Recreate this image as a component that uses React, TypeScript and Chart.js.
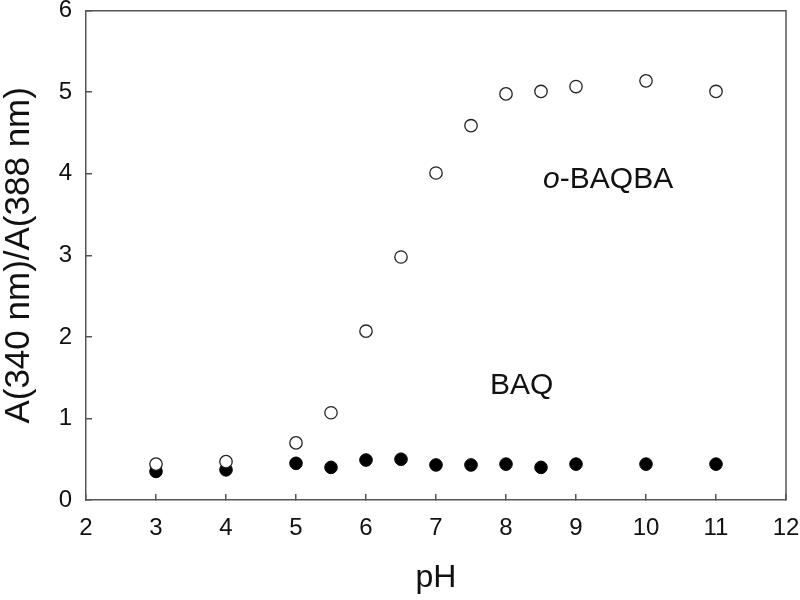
import React, { useEffect, useRef } from "react";
import { Chart, registerables } from "chart.js";

Chart.register(...registerables);

// pH values
const phValues = [3, 4, 5, 5.5, 6, 6.5, 7, 7.5, 8, 8.5, 9, 10, 11];
// o-BAQBA ratio A(340)/A(388) (open circles)
const baqbaRatio = [0.44, 0.47, 0.7, 1.07, 2.07, 2.98, 4.01, 4.59, 4.98, 5.01, 5.07, 5.14, 5.01];
// BAQ ratio (filled circles)
const baqRatio = [0.35, 0.37, 0.45, 0.4, 0.49, 0.5, 0.43, 0.43, 0.44, 0.4, 0.44, 0.44, 0.44];

const xTitle = "pH";
const yTitle = "A(340 nm)/A(388 nm)";

// In-plot text labels (data coordinates)
const annotations = [
  { italic: "o", text: "-BAQBA", x: 8.53, y: 3.93 },
  { italic: "", text: "BAQ", x: 7.77, y: 1.4 },
];

const FONT = "'Liberation Sans', Arial, Helvetica, sans-serif";
const AXIS = "#555555";

const framePlugin = {
  id: "frame",
  afterDraw(chart: any) {
    const { ctx, chartArea } = chart;
    ctx.save();
    ctx.strokeStyle = AXIS;
    ctx.lineWidth = 1.5;
    ctx.beginPath();
    ctx.moveTo(chartArea.left, chartArea.top);
    ctx.lineTo(chartArea.right, chartArea.top);
    ctx.lineTo(chartArea.right, chartArea.bottom);
    ctx.stroke();
    ctx.restore();
  },
};

const labelPlugin = {
  id: "labels",
  afterDatasetsDraw(chart: any) {
    const { ctx, scales } = chart;
    ctx.save();
    ctx.fillStyle = "#111111";
    ctx.textBaseline = "middle";
    ctx.textAlign = "left";
    for (const a of annotations) {
      let px = scales.x.getPixelForValue(a.x);
      const py = scales.y.getPixelForValue(a.y);
      if (a.italic) {
        ctx.font = `italic 30px ${FONT}`;
        ctx.fillText(a.italic, px, py);
        px += ctx.measureText(a.italic).width;
      }
      ctx.font = `30px ${FONT}`;
      ctx.fillText(a.text, px, py);
    }
    ctx.restore();
  },
};

const zeroPad = (s: any) => {
  s.paddingTop = 0;
  s.paddingBottom = 0;
  s.paddingLeft = 0;
  s.paddingRight = 0;
};

export default function App() {
  const ref = useRef<HTMLCanvasElement>(null);

  useEffect(() => {
    if (!ref.current) return;
    const chart = new Chart(ref.current, {
      type: "scatter",
      data: {
        datasets: [
          {
            label: "o-BAQBA",
            data: phValues.map((x, i) => ({ x, y: baqbaRatio[i] })),
            pointRadius: 6.2,
            pointBorderWidth: 1.3,
            pointBackgroundColor: "#ffffff",
            pointBorderColor: "#222222",
            showLine: false,
          },
          {
            label: "BAQ",
            data: phValues.map((x, i) => ({ x, y: baqRatio[i] })),
            pointRadius: 6.3,
            pointBorderWidth: 1,
            pointBackgroundColor: "#000000",
            pointBorderColor: "#000000",
            showLine: false,
          },
        ],
      },
      options: {
        animation: false,
        responsive: false,
        layout: { padding: { left: 0, right: 14, top: 10.7, bottom: 0 } },
        plugins: {
          legend: { display: false },
          tooltip: { enabled: false },
        },
        scales: {
          x: {
            type: "linear",
            min: 2,
            max: 12,
            afterFit: (s: any) => {
              s.height = 100;
              zeroPad(s);
            },
            ticks: {
              stepSize: 1,
              padding: 24,
              color: "#111111",
              font: { family: FONT, size: 24, lineHeight: 0.9 },
            },
            grid: {
              display: true,
              drawOnChartArea: false,
              drawTicks: true,
              tickLength: -6,
              color: AXIS,
              lineWidth: 1.5,
            },
            border: { display: true, color: AXIS, width: 1.5 },
            title: {
              display: true,
              text: xTitle,
              color: "#111111",
              font: { family: FONT, size: 32 },
              padding: { top: 0, bottom: 3 },
            },
          },
          y: {
            type: "linear",
            min: 0,
            max: 6,
            afterFit: (s: any) => {
              s.width = 86;
              zeroPad(s);
            },
            ticks: {
              stepSize: 1,
              padding: 20,
              color: "#111111",
              font: { family: FONT, size: 24, lineHeight: 0.9 },
            },
            grid: {
              display: true,
              drawOnChartArea: false,
              drawTicks: true,
              tickLength: -6,
              color: AXIS,
              lineWidth: 1.5,
            },
            border: { display: true, color: AXIS, width: 1.5 },
            title: {
              display: true,
              text: yTitle,
              color: "#111111",
              font: { family: FONT, size: 35 },
              padding: { top: -2, bottom: 0 },
            },
          },
        },
      },
      plugins: [framePlugin, labelPlugin],
    });
    return () => chart.destroy();
  }, []);

  return (
    <div style={{ position: "absolute", left: 0, top: 0, width: 800, height: 600, background: "#fff" }}>
      <canvas ref={ref} width={800} height={600} style={{ display: "block" }} />
    </div>
  );
}
